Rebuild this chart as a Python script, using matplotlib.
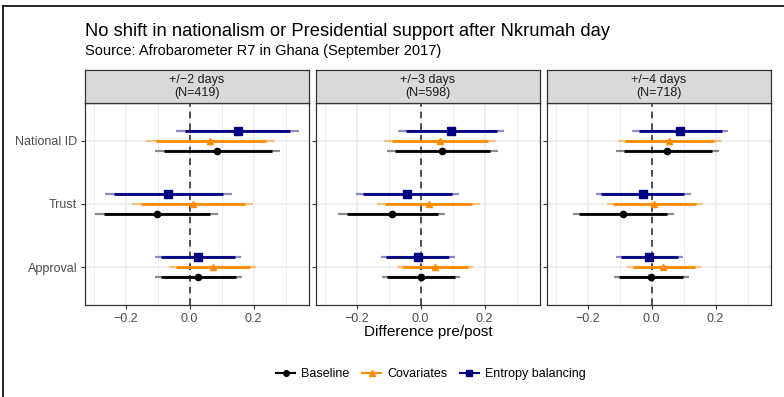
import matplotlib
matplotlib.use("Agg")
import matplotlib.pyplot as plt
from matplotlib.lines import Line2D
import numpy as np

plt.rcParams['font.family'] = ['Liberation Sans', 'DejaVu Sans']

outcomes = ['Approval', 'Trust', 'National ID']
panels = ['+/\u22122 days\n(N=419)', '+/\u22123 days\n(N=598)', '+/\u22124 days\n(N=718)']
models = ['Baseline', 'Covariates', 'Entropy balancing']

# estimates per panel, per model, in order of outcomes (Approval, Trust, National ID)
est = {
    'Baseline': [[0.027, -0.103, 0.085], [0.001, -0.090, 0.068], [-0.001, -0.089, 0.049]],
    'Covariates': [[0.072, 0.009, 0.065], [0.044, 0.026, 0.061], [0.037, 0.008, 0.055]],
    'Entropy balancing': [[0.025, -0.068, 0.151], [-0.009, -0.042, 0.095], [-0.008, -0.028, 0.089]],
}
# inner (90%) intervals
lo90 = {
    'Baseline': [[-0.090, -0.268, -0.080], [-0.104, -0.230, -0.081], [-0.103, -0.226, -0.087]],
    'Covariates': [[-0.043, -0.152, -0.105], [-0.059, -0.112, -0.091], [-0.058, -0.121, -0.084]],
    'Entropy balancing': [[-0.090, -0.236, -0.014], [-0.109, -0.181, -0.047], [-0.097, -0.157, -0.040]],
}
hi90 = {
    'Baseline': [[0.144, 0.063, 0.257], [0.107, 0.054, 0.218], [0.098, 0.048, 0.188]],
    'Covariates': [[0.189, 0.172, 0.239], [0.149, 0.161, 0.212], [0.135, 0.139, 0.195]],
    'Entropy balancing': [[0.142, 0.105, 0.313], [0.089, 0.099, 0.239], [0.082, 0.102, 0.220]],
}
# outer (95%) intervals
lo95 = {
    'Baseline': [[-0.108, -0.296, -0.108], [-0.120, -0.257, -0.104], [-0.118, -0.246, -0.111]],
    'Covariates': [[-0.064, -0.180, -0.136], [-0.075, -0.135, -0.114], [-0.077, -0.140, -0.106]],
    'Entropy balancing': [[-0.108, -0.265, -0.042], [-0.125, -0.203, -0.070], [-0.112, -0.174, -0.061]],
}
hi95 = {
    'Baseline': [[0.164, 0.090, 0.282], [0.123, 0.076, 0.242], [0.116, 0.069, 0.212]],
    'Covariates': [[0.207, 0.198, 0.267], [0.164, 0.186, 0.237], [0.153, 0.161, 0.219]],
    'Entropy balancing': [[0.160, 0.131, 0.342], [0.107, 0.121, 0.262], [0.097, 0.124, 0.240]],
}

colors = {'Baseline': 'black', 'Covariates': '#FF8C00', 'Entropy balancing': '#000080'}
markers = {'Baseline': 'o', 'Covariates': '^', 'Entropy balancing': 's'}
msize = {'Baseline': 4.5, 'Covariates': 5, 'Entropy balancing': 5.5}
offsets = {'Baseline': -0.16, 'Covariates': 0.0, 'Entropy balancing': 0.16}

W, H = 784, 397
fig = plt.figure(figsize=(W / 100, H / 100), dpi=100)

lefts = [85, 316, 547]
pw = 224
top, bottom = 103, 305
strip_top = 70

for p, left in enumerate(lefts):
    ax = fig.add_axes([left / W, (H - bottom) / H, pw / W, (bottom - top) / H])
    ax.set_xlim(-0.327, 0.373)
    ax.set_ylim(0.4, 3.6)
    ax.set_xticks([-0.2, 0.0, 0.2])
    ax.set_xticks([-0.3, -0.1, 0.1, 0.3], minor=True)
    ax.set_xticklabels(['\u22120.2', '0.0', '0.2'])
    ax.set_yticks([1, 2, 3])
    if p == 0:
        ax.set_yticklabels(outcomes)
    else:
        ax.set_yticklabels([])
    ax.grid(which='major', color='#EBEBEB', linewidth=1.1)
    ax.grid(which='minor', axis='x', color='#EBEBEB', linewidth=0.6)
    ax.set_axisbelow(True)
    ax.tick_params(which='major', length=3, width=0.8, color='#333333',
                   labelsize=9, labelcolor='#4D4D4D', pad=2.5)
    ax.tick_params(which='minor', length=0)
    for s in ax.spines.values():
        s.set_color('#333333')
        s.set_linewidth(0.9)
    ax.axvline(0, color='#333333', linestyle=(0, (4, 3)), linewidth=1.2, zorder=1)

    for m in models:
        y = np.arange(1, 4) + offsets[m]
        ax.hlines(y, lo95[m][p], hi95[m][p], color=colors[m], alpha=0.45, linewidth=1.6, zorder=2)
        ax.hlines(y, lo90[m][p], hi90[m][p], color=colors[m], linewidth=2.0, zorder=3)
        ax.plot(est[m][p], y, linestyle='none', marker=markers[m], color=colors[m],
                markersize=msize[m], zorder=4)

    sax = fig.add_axes([left / W, (H - top) / H, pw / W, (top - strip_top) / H])
    sax.set_xticks([])
    sax.set_yticks([])
    sax.set_facecolor('#D9D9D9')
    for s in sax.spines.values():
        s.set_color('#333333')
        s.set_linewidth(0.9)
    sax.text(0.5, 0.5, panels[p], ha='center', va='center', fontsize=9,
             color='#1A1A1A', linespacing=1.15, transform=sax.transAxes)

fig.text(85 / W, 1 - 31 / H, 'No shift in nationalism or Presidential support after Nkrumah day',
         fontsize=13.2, va='center', ha='left')
fig.text(85 / W, 1 - 51 / H, 'Source: Afrobarometer R7 in Ghana (September 2017)',
         fontsize=10.5, va='center', ha='left')
fig.text(428 / W, 1 - 332 / H, 'Difference pre/post', fontsize=11, va='center', ha='center')

handles = [Line2D([0], [0], color=colors[m], marker=markers[m], markersize=4, linewidth=1.5)
           for m in models]
fig.legend(handles, models, loc='center', bbox_to_anchor=(431 / W, 1 - 374 / H), ncol=3,
           frameon=False, fontsize=9, handlelength=1.5, handletextpad=0.5, columnspacing=1.0)

# outer frame (top and left edges visible)
fig.add_artist(Line2D([3 / W, 3 / W], [0, 1 - 6 / H], color='black', linewidth=1.2,
                      transform=fig.transFigure))
fig.add_artist(Line2D([3 / W, 1], [1 - 6 / H, 1 - 6 / H], color='black', linewidth=1.2,
                      transform=fig.transFigure))

fig.savefig('out.png', dpi=100, facecolor='white')
